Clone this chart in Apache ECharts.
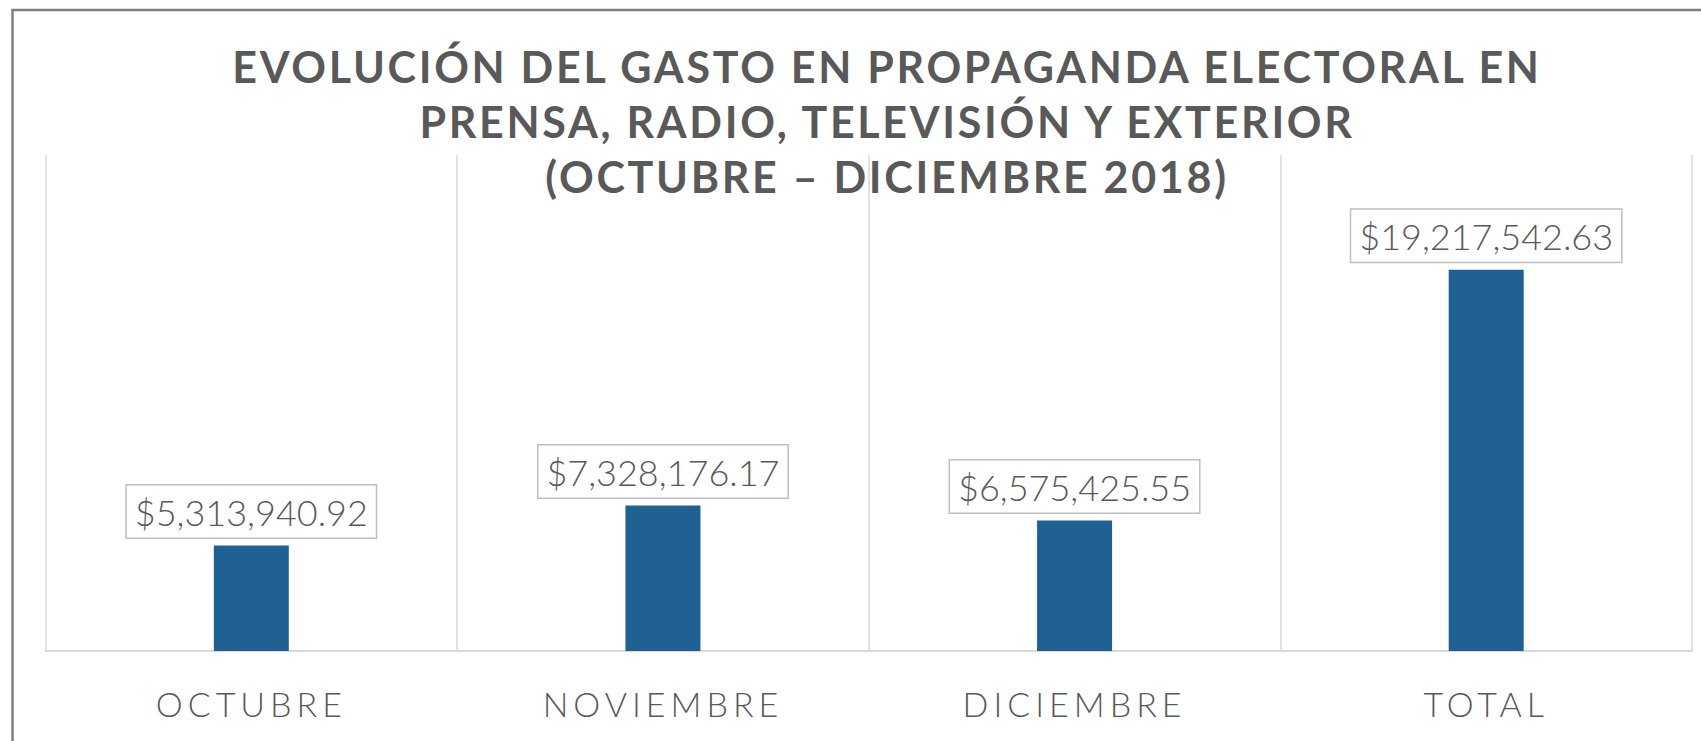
<!DOCTYPE html>
<html>
<head>
<meta charset="utf-8">
<script src="https://cdn.jsdelivr.net/npm/echarts@6/dist/echarts.min.js"></script>
<style>
  html, body { margin: 0; padding: 0; background: #fff; }
  #chart { width: 1701px; height: 741px; }
  /* letter spacing for title (43px) and category labels (34px) */
  #chart text[style*="43px"] { letter-spacing: 2.7px; }
  #chart text[style*="34px"] { letter-spacing: 5px; }
</style>
</head>
<body>
<div id="chart"></div>
<script>
const titleLines = [
  'EVOLUCIÓN DEL GASTO EN PROPAGANDA ELECTORAL EN',
  'PRENSA, RADIO, TELEVISIÓN Y EXTERIOR',
  '(OCTUBRE – DICIEMBRE 2018)'
];
const categories = ['OCTUBRE', 'NOVIEMBRE', 'DICIEMBRE', 'TOTAL'];
const gasto = [5313940.92, 7328176.17, 6575425.55, 19217542.63];
const yMax = 25000000;

function money(v) {
  return '$' + v.toLocaleString('en-US', { minimumFractionDigits: 2, maximumFractionDigits: 2 });
}

const chart = echarts.init(document.getElementById('chart'), null, { renderer: 'svg' });
chart.setOption({
  animation: false,
  backgroundColor: '#ffffff',
  graphic: [{
    type: 'rect',
    shape: { x: 12.5, y: 10, width: 1800, height: 900 },
    style: { fill: 'none', stroke: '#7f7f7f', lineWidth: 2.5 },
    silent: true,
    z: -1
  }],
  title: {
    text: titleLines.join('\n'),
    left: 882,
    top: 34,
    textAlign: 'center',
    textStyle: {
      fontFamily: 'Lato',
      fontWeight: 'bold',
      fontSize: 43,
      lineHeight: 55,
      color: '#595959'
    }
  },
  grid: { left: 45.5, right: 9, top: 155, bottom: 90 },
  xAxis: {
    type: 'category',
    data: categories,
    axisLine: { lineStyle: { color: '#d9d9d9', width: 2 } },
    axisTick: { show: false },
    splitLine: { show: true, lineStyle: { color: '#d9d9d9', width: 1.5 } },
    axisLabel: {
      margin: 35,
      fontFamily: 'Lato',
      fontWeight: 300,
      fontSize: 34,
      color: '#595959'
    }
  },
  yAxis: {
    type: 'value',
    min: 0,
    max: yMax,
    show: false,
    splitLine: { show: false }
  },
  series: [{
    type: 'bar',
    data: gasto,
    barWidth: 75,
    itemStyle: { color: '#1f6193' },
    label: {
      show: true,
      position: 'top',
      distance: 8,
      formatter: p => money(p.value),
      fontFamily: 'Lato',
      fontWeight: 300,
      fontSize: 36,
      lineHeight: 41,
      color: '#595959',
      backgroundColor: '#ffffff',
      borderColor: '#bfbfbf',
      borderWidth: 1.5,
      padding: [6, 8, 5, 8]
    }
  }]
});
</script>
</body>
</html>
